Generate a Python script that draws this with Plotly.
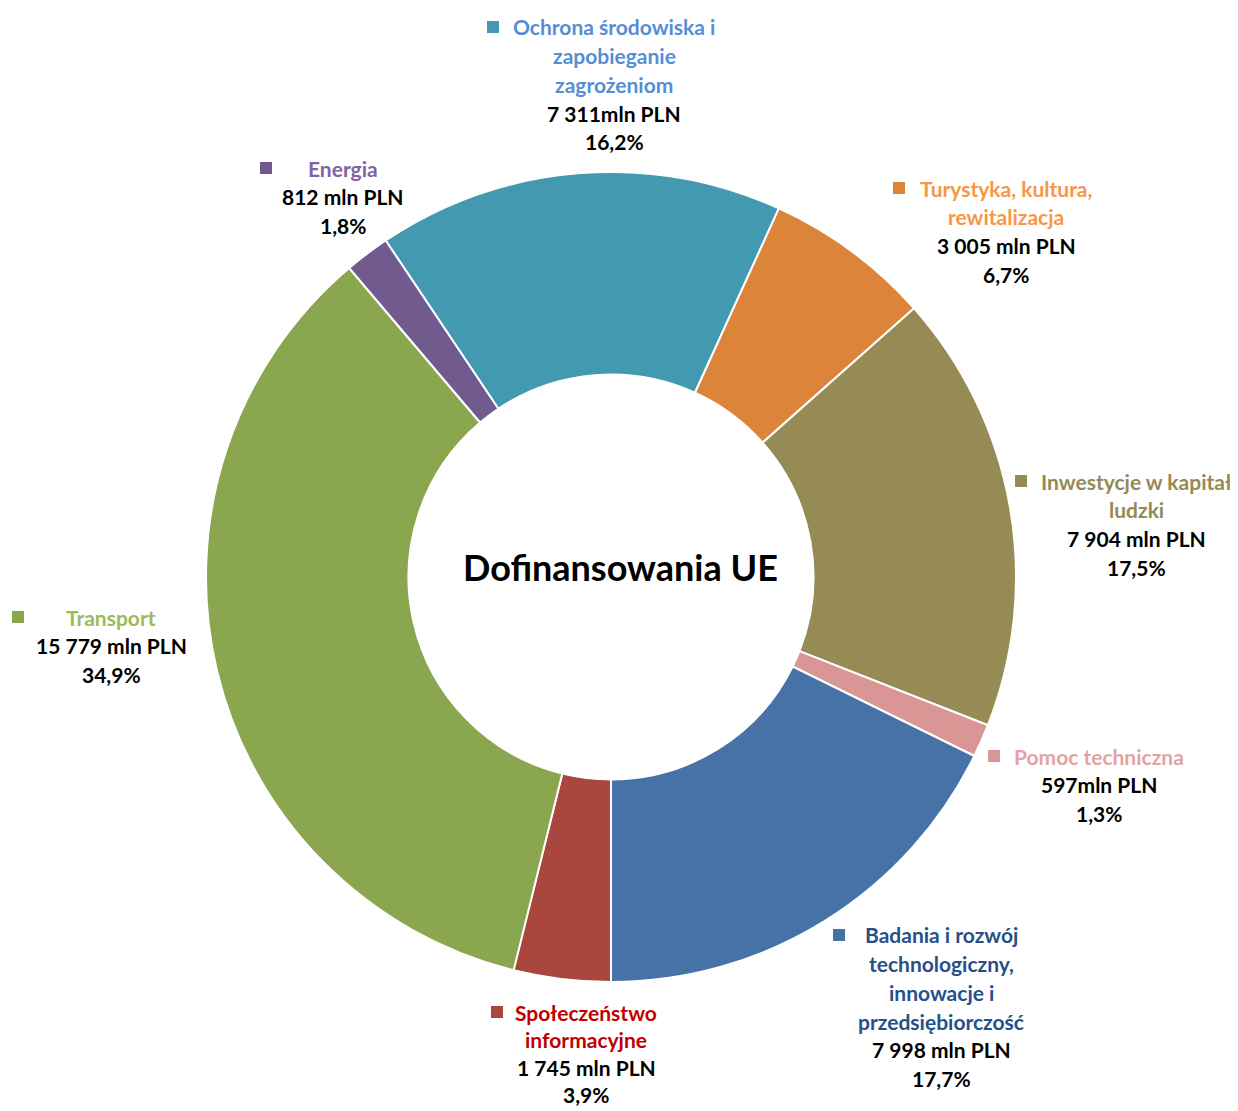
import plotly.graph_objects as go

# ---- data ----
categories = [
    "Ochrona środowiska i<br>zapobieganie<br>zagrożeniom",
    "Turystyka, kultura,<br>rewitalizacja",
    "Inwestycje w kapitał<br>ludzki",
    "Pomoc techniczna",
    "Badania i rozwój<br>technologiczny,<br>innowacje i<br>przedsiębiorczość",
    "Społeczeństwo<br>informacyjne",
    "Transport",
    "Energia",
]
values = [7311, 3005, 7904, 597, 7998, 1745, 15779, 812]
value_labels = ["7 311mln PLN", "3 005 mln PLN", "7 904 mln PLN", "597mln PLN",
                "7 998 mln PLN", "1 745 mln PLN", "15 779 mln PLN", "812 mln PLN"]
pct_labels = ["16,2%", "6,7%", "17,5%", "1,3%", "17,7%", "3,9%", "34,9%", "1,8%"]
center_title = "Dofinansowania UE"

# ---- styles ----
slice_colors = ["#4299B0", "#DD843B", "#968B55", "#D99694",
                "#4672A8", "#A9473F", "#8AA64E", "#715A8E"]
name_colors = ["#558ED5", "#F79646", "#948A54", "#E2A3A2",
               "#25508A", "#C00000", "#9BBB59", "#8064A2"]
# label placement in screen pixels: (text center x, first line center y, square x, square y, line height)
label_pos = [
    (614, 27, 493, 27, 28.7),
    (1006, 188, 899, 188, 28.7),
    (1136, 481, 1021, 481, 28.7),
    (1099, 756, 994, 756, 28.7),
    (941, 935, 839, 935, 28.7),
    (586, 1012, 497, 1012, 27.5),
    (111, 617, 18, 617, 28.7),
    (343, 168, 266, 168, 28.7),
]

OFF = 8  # page body margin
W, H = 1230, 1103
CX, CY, R = 611 - OFF, 577 - OFF, 405
FONT = "Lato"
FS = 21


def px(x):
    return (x - OFF) / W


def py(y):
    return 1 - (y - OFF) / H


# rotation so that the Badania/Społeczeństwo boundary sits at 6 o'clock
total = sum(values)
cum_before = sum(values[:5]) / total * 360
rotation = 180 - cum_before

fig = go.Figure(go.Pie(
    values=values,
    labels=[c.replace("<br>", " ") for c in categories],
    sort=False,
    direction="clockwise",
    rotation=rotation,
    hole=0.5,
    marker=dict(colors=slice_colors, line=dict(color="white", width=2)),
    textinfo="none",
    hoverinfo="label+value+percent",
    showlegend=False,
    domain=dict(x=[(CX - R) / W, (CX + R) / W],
                y=[1 - (CY + R) / H, 1 - (CY - R) / H]),
))

annotations = []
shapes = []
SQ = 12
for cat, vl, pl, nc, sc, (tx, ty, sx, sy, lh) in zip(categories, value_labels, pct_labels,
                                                     name_colors, slice_colors, label_pos):
    lines = [(t, nc) for t in cat.split("<br>")] + [(vl, "#000000"), (pl, "#000000")]
    for i, (t, col) in enumerate(lines):
        annotations.append(dict(
            x=px(tx), y=py(ty + i * lh), xref="paper", yref="paper",
            xanchor="center", yanchor="middle", showarrow=False,
            text=f"<b>{t}</b>", borderpad=0,
            font=dict(family=FONT, size=FS, color=col),
        ))
    shapes.append(dict(
        type="rect", xref="paper", yref="paper",
        x0=px(sx - SQ / 2), x1=px(sx + SQ / 2),
        y0=py(sy + SQ / 2), y1=py(sy - SQ / 2),
        fillcolor=sc, line=dict(width=0),
    ))

annotations.append(dict(
    x=px(620), y=py(567), xref="paper", yref="paper",
    xanchor="center", yanchor="middle", showarrow=False,
    text=f"<b>{center_title}</b>",
    font=dict(family=FONT, size=36, color="#000000"),
))

fig.update_layout(
    width=W, height=H,
    margin=dict(l=0, r=0, t=0, b=0),
    paper_bgcolor="white", plot_bgcolor="white",
    annotations=annotations, shapes=shapes,
)

fig.write_html("out.html")
